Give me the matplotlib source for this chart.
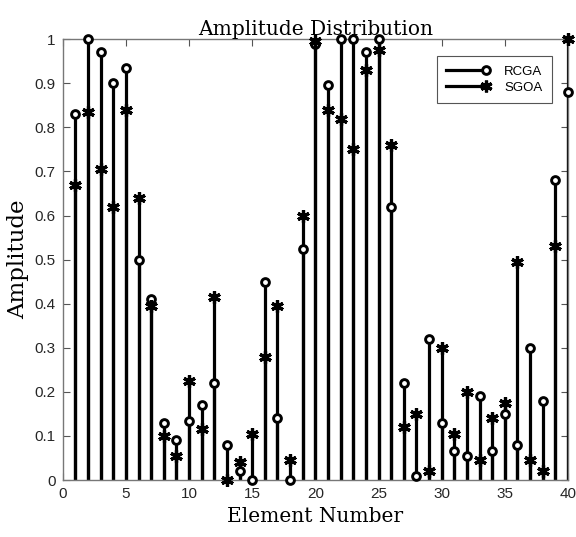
import numpy as np
import matplotlib
matplotlib.use("Agg")
import matplotlib.pyplot as plt
from matplotlib.lines import Line2D
from matplotlib.legend_handler import HandlerLine2D

elements = list(range(1, 41))
rcga = [0.83, 1.0, 0.97, 0.90, 0.935, 0.50, 0.41, 0.13, 0.09, 0.135,
        0.17, 0.22, 0.08, 0.02, 0.0, 0.45, 0.14, 0.0, 0.525, 0.99,
        0.895, 1.0, 1.0, 0.97, 1.0, 0.62, 0.22, 0.01, 0.32, 0.13,
        0.065, 0.055, 0.19, 0.065, 0.15, 0.08, 0.30, 0.18, 0.68, 0.88]
sgoa = [0.67, 0.835, 0.705, 0.62, 0.84, 0.64, 0.395, 0.10, 0.055, 0.225,
        0.115, 0.415, 0.0, 0.04, 0.105, 0.28, 0.395, 0.045, 0.60, 0.995,
        0.84, 0.82, 0.75, 0.93, 0.975, 0.76, 0.12, 0.15, 0.02, 0.30,
        0.105, 0.20, 0.045, 0.14, 0.175, 0.495, 0.045, 0.02, 0.53, 1.0]
xticks = [0, 5, 10, 15, 20, 25, 30, 35, 40]
yticks = [0, 0.1, 0.2, 0.3, 0.4, 0.5, 0.6, 0.7, 0.8, 0.9, 1]
ytick_labels = ['0', '0.1', '0.2', '0.3', '0.4', '0.5', '0.6', '0.7', '0.8', '0.9', '1']

fig = plt.figure(figsize=(5.76, 5.37), dpi=100)
ax = fig.add_axes([0.109, 0.106, 0.877, 0.821])

asterisk = (6, 2, 0)

def stem(vals, marker, ms, mew, mfc):
    for x, y in zip(elements, vals):
        ax.plot([x, x], [0, y], color='black', lw=2.3, solid_capstyle='butt', zorder=2)
    ax.plot(elements, vals, linestyle='none', marker=marker, ms=ms,
            mec='black', mfc=mfc, mew=mew, zorder=3, clip_on=False)

stem(rcga, 'o', 5.6, 2.1, 'white')
stem(sgoa, asterisk, 9, 2.3, 'black')

ax.set_xlim(0, 40)
ax.set_ylim(0, 1)
ax.set_xticks(xticks)
ax.set_yticks(yticks)
ax.set_yticklabels(ytick_labels)
ax.tick_params(direction='in', top=True, right=True, length=5, width=0.8,
               labelsize=11, labelcolor='#262626', color='#555555', pad=5)
for lab in ax.get_xticklabels() + ax.get_yticklabels():
    lab.set_family('Liberation Sans')
for s in ax.spines.values():
    s.set_color('#777777')
    s.set_linewidth(1.0)

ax.set_title('Amplitude Distribution', family='DejaVu Serif', fontsize=14.5, pad=3)
ax.set_xlabel('Element Number', family='DejaVu Serif', fontsize=14.5, labelpad=4)
ax.set_ylabel('Amplitude', family='DejaVu Serif', fontsize=16.5, labelpad=4)


class RightMarker(HandlerLine2D):
    def create_artists(self, *args, **kwargs):
        arts = super().create_artists(*args, **kwargs)
        for a in arts:
            a.set_markevery([2])
        return arts

h1 = Line2D([], [], color='black', lw=2.3, marker='o', ms=5.6, mfc='white', mec='black', mew=2.1)
h2 = Line2D([], [], color='black', lw=2.3, marker=asterisk, ms=8.5, mfc='black', mec='black', mew=2.3)
leg = ax.legend([h1, h2], ['RCGA', 'SGOA'], loc='upper right',
                bbox_to_anchor=(0.968, 0.961), borderaxespad=0, numpoints=1,
                handler_map={Line2D: RightMarker(numpoints=1)},
                prop={'family': 'Liberation Sans', 'size': 9.5},
                fancybox=False, edgecolor='#555555', framealpha=1,
                handlelength=3.0, labelspacing=0.3, borderpad=0.7, handletextpad=1.4)
leg.get_frame().set_linewidth(0.8)

fig.savefig('out.png', dpi=100)
